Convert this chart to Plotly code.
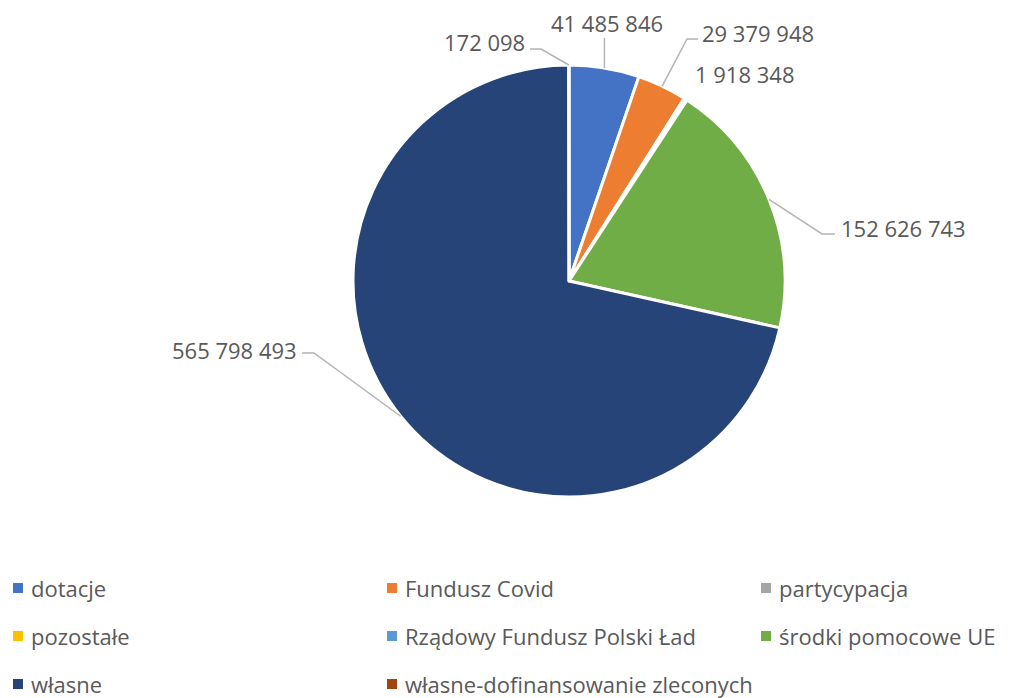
import math
import plotly.graph_objects as go

categories = ["dotacje", "Fundusz Covid", "partycypacja", "pozostałe",
              "Rządowy Fundusz Polski Ład", "środki pomocowe UE", "własne",
              "własne-dofinansowanie zleconych"]
values = [41485846, 29379948, 1918348, 0, 0, 152626743, 565798493, 172098]
colors = ["#4472C4", "#ED7D31", "#A5A5A5", "#FFC000",
          "#5B9BD5", "#70AD47", "#264478", "#9E480E"]

W, H = 1009, 698
OFF = 8  # page body margin offset
CX, CY, R = 569, 281, 216  # pie centre / radius in screen pixels (layout)

def px(x):
    return (x - OFF) / W

def py(y):
    return 1 - (y - OFF) / H

fig = go.Figure(go.Pie(
    labels=categories, values=values, sort=False, direction="clockwise",
    rotation=0, textinfo="none", showlegend=False,
    marker=dict(colors=colors, line=dict(color="white", width=3)),
    domain=dict(x=[px(CX - R), px(CX + R)], y=[py(CY + R), py(CY - R)]),
))

# label layout: text position (px), anchor side, elbow point, line end
label_layout = {
    "dotacje": dict(tx=607, ty=23, xa="center", elbow=None, end=("a", 38)),
    "Fundusz Covid": dict(tx=701, ty=33, xa="left", elbow=(687, 39), end=(698, 39)),
    "partycypacja": dict(tx=694, ty=74, xa="left", elbow=None, end=None),
    "środki pomocowe UE": dict(tx=840, ty=228, xa="left", elbow=(822, 234), end=(835, 234)),
    "własne": dict(tx=298, ty=350, xa="right", elbow=(314, 353), end=(302, 353)),
    "własne-dofinansowanie zleconych": dict(tx=526, ty=42, xa="right", elbow=(541, 49), end=(530, 49)),
}

total = sum(values)
cum = 0
annotations = []
shapes = []
for cat, v in zip(categories, values):
    if v <= 0:
        continue
    mid = (cum + v / 2) / total * 2 * math.pi
    cum += v
    ax = CX + R * math.sin(mid)
    ay = CY - R * math.cos(mid)
    lay = label_layout[cat]
    annotations.append(dict(
        x=px(lay["tx"]), y=py(lay["ty"]), xref="paper", yref="paper",
        xanchor=lay["xa"], yanchor="middle", showarrow=False, borderpad=0,
        text=f"{v:,}".replace(",", " "),
        font=dict(family="Open Sans", size=22, color="#595959"),
    ))
    if lay["end"] is not None:
        pts = [(ax, ay)]
        if lay["elbow"] is not None:
            pts.append(lay["elbow"])
        ex, ey = lay["end"]
        if ex == "a":
            ex = ax
        pts.append((ex, ey))
        path = "M " + " L ".join(f"{px(x):.5f},{py(y):.5f}" for x, y in pts)
        shapes.append(dict(type="path", path=path, xref="paper", yref="paper",
                           line=dict(color="#B4B4B4", width=1.5)))

# manual legend (3 columns x 3 rows)
col_x = [13, 387, 761]
row_y = [588, 636, 684]
for i, (cat, col) in enumerate(zip(categories, colors)):
    c, r = i % 3, i // 3
    x0, y0 = col_x[c], row_y[r]
    shapes.append(dict(type="rect", xref="paper", yref="paper",
                       x0=px(x0), x1=px(x0 + 10), y0=py(y0 + 5), y1=py(y0 - 5),
                       fillcolor=col, line=dict(width=0)))
    annotations.append(dict(
        x=px(x0 + 16), y=py(y0), xref="paper", yref="paper",
        xanchor="left", yanchor="middle", showarrow=False, text=cat,
        font=dict(family="Open Sans", size=22, color="#595959"),
    ))

fig.update_layout(
    width=W, height=H, margin=dict(l=0, r=0, t=0, b=0),
    paper_bgcolor="white", plot_bgcolor="white",
    annotations=annotations, shapes=shapes,
)
fig.write_html("out.html")
